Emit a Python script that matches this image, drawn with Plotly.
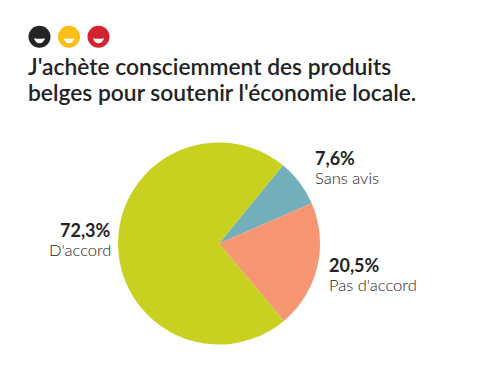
import plotly.graph_objects as go

categories = ["Sans avis", "Pas d'accord", "D'accord"]
values = [7.6, 20.5, 72.3]
colors = ["#72AFBB", "#F79673", "#C8D020"]
title_lines = ["J'achète consciemment des produits", "belges pour soutenir l'économie locale."]
icon_colors = ["#242424", "#FDBE16", "#D2232F"]

W, H = 480, 387
INK = "#232323"
FONT = "Lato"


def px(x):
    return x / W


def py(y):
    return 1 - y / H


fig = go.Figure(
    go.Pie(
        labels=categories,
        values=values,
        sort=False,
        direction="clockwise",
        rotation=39.3,
        marker=dict(colors=colors, line=dict(width=0)),
        textinfo="none",
        hoverinfo="label+percent",
        domain=dict(x=[px(118), px(320)], y=[py(344.5), py(142.5)]),
        showlegend=False,
    )
)

shapes = []
for cx, col in zip([39.5, 69, 98.5], icon_colors):
    r = 11
    shapes.append(dict(type="circle", xref="paper", yref="paper",
                       x0=px(cx - r), x1=px(cx + r), y0=py(36.7 + r), y1=py(36.7 - r),
                       fillcolor=col, line=dict(width=0)))
    x0, x1, y0 = px(cx - 5.5), px(cx + 5.5), py(38.3)
    yb = py(43.3)
    shapes.append(dict(type="path", xref="paper", yref="paper",
                       path=f"M {x0} {y0} Q {px(cx)} {py(39.3)} {x1} {y0} Q {px(cx+4)} {yb} {px(cx)} {yb} Q {px(cx-4)} {yb} {x0} {y0} Z",
                       fillcolor="white", line=dict(width=0)))

annotations = []
for line, y in zip(title_lines, [66, 92]):
    annotations.append(dict(text=line, x=px(26), y=py(y), xref="paper", yref="paper",
                            xanchor="left", yanchor="middle", showarrow=False,
                            font=dict(family=FONT, size=22.8, color=INK, weight=600)))

label_pos = [(313, 158, 178, "left"), (327, 265, 285, "left"), (112.5, 230, 250, "right")]
for cat, val, (x, y1, y2, anchor) in zip(categories, values, label_pos):
    annotations.append(dict(text=f"<b>{f'{val:.1f}'.replace('.', ',')}%</b>", x=px(x), y=py(y1),
                            xref="paper", yref="paper", xanchor=anchor, yanchor="middle", showarrow=False,
                            font=dict(family=FONT, size=18, color=INK)))
    annotations.append(dict(text=cat, x=px(x), y=py(y2), xref="paper", yref="paper",
                            xanchor=anchor, yanchor="middle", showarrow=False,
                            font=dict(family=FONT, size=16.5, color="#232323", weight=300)))

fig.update_layout(width=W, height=H, margin=dict(l=0, r=0, t=0, b=0), autosize=False,
                  paper_bgcolor="white", plot_bgcolor="white", shapes=shapes, annotations=annotations)
fig.write_html("out.html", config=dict(displayModeBar=False),
               post_script="document.body.style.margin='0';document.documentElement.style.overflow='hidden';")
